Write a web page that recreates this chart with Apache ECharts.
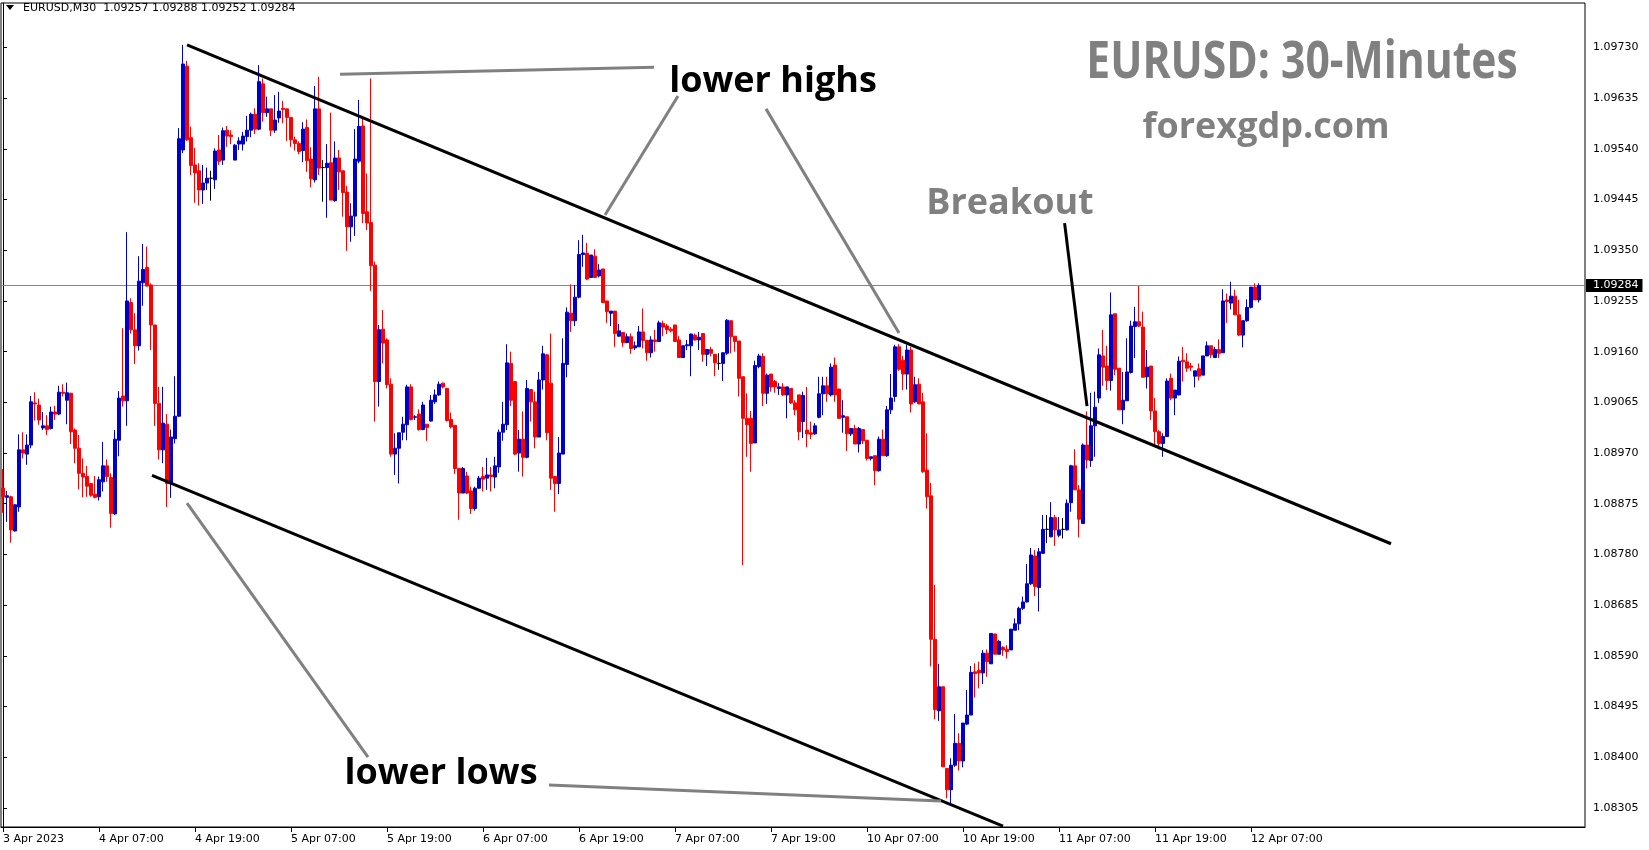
<!DOCTYPE html>
<html>
<head>
<meta charset="utf-8">
<script src="https://cdn.jsdelivr.net/npm/echarts@6/dist/echarts.min.js"></script>
<style>
html,body{margin:0;padding:0;background:#fff;}
#chart{width:1649px;height:850px;}
</style>
</head>
<body>
<div id="chart"></div>
<script>
// ---- Data (EURUSD M30, 3 Apr 19:00 .. 12 Apr 2023) ----
const openP = [
1.08904,1.08887,1.08888,1.08824,1.08869,1.08976,1.08968,1.08985,1.09064,1.09060,
1.09017,1.09021,1.09016,1.09047,1.09043,1.09084,1.09069,1.09082,1.09013,1.08979,
1.08932,1.08926,1.08913,1.08893,1.08888,1.08916,1.08946,1.08924,1.08856,1.08994,
1.09077,1.09068,1.09252,1.09201,1.09171,1.09289,1.09318,1.09285,1.09210,1.09063,
1.08976,1.09024,1.08914,1.08997,1.09039,1.09538,1.09695,1.09561,1.09510,1.09499,
1.09463,1.09476,1.09485,1.09482,1.09538,1.09519,1.09575,1.09566,1.09519,1.09549,
1.09549,1.09563,1.09575,1.09605,1.09577,1.09662,1.09608,1.09615,1.09575,1.09598,
1.09616,1.09615,1.09599,1.09557,1.09550,1.09537,1.09580,1.09521,1.09482,1.09615,
1.09505,1.09505,1.09514,1.09443,1.09523,1.09499,1.09459,1.09394,1.09414,1.09517,
1.09583,1.09422,1.09402,1.09322,1.09104,1.09202,1.09182,1.09099,1.08968,1.08979,
1.09009,1.09023,1.09094,1.09037,1.09043,1.09014,1.09024,1.09030,1.09066,1.09079,
1.09101,1.09091,1.09033,1.09022,1.08941,1.08895,1.08927,1.08899,1.08866,1.08904,
1.08926,1.08923,1.08929,1.08925,1.08944,1.09009,1.09023,1.09138,1.09104,1.08970,
1.08996,1.08962,1.09089,1.09066,1.09000,1.09107,1.09154,1.09101,1.08926,1.08913,
1.08968,1.09136,1.09232,1.09218,1.09262,1.09342,1.09344,1.09299,1.09339,1.09302,
1.09315,1.09255,1.09232,1.09236,1.09189,1.09196,1.09177,1.09188,1.09167,1.09169,
1.09197,1.09181,1.09158,1.09182,1.09179,1.09213,1.09208,1.09202,1.09210,1.09182,
1.09149,1.09171,1.09171,1.09191,1.09182,1.09194,1.09155,1.09164,1.09155,1.09138,
1.09138,1.09157,1.09218,1.09189,1.09180,1.09113,1.09035,1.09035,1.08989,1.09132,
1.09151,1.09082,1.09118,1.09104,1.09091,1.09094,1.09079,1.09091,1.09064,1.09079,
1.09029,1.09013,1.09008,1.09006,1.09037,1.09081,1.09096,1.09079,1.09135,1.09090,
1.09037,1.09038,1.09006,1.09016,1.08987,1.09014,1.08994,1.08960,1.08965,1.08937,
1.08996,1.08965,1.09051,1.09076,1.09169,1.09144,1.09118,1.09163,1.09066,1.09099,
1.09066,1.08938,1.08890,1.08621,1.08487,1.08532,1.08379,1.08339,1.08385,1.08426,
1.08393,1.08462,1.08479,1.08560,1.08563,1.08558,1.08595,1.08575,1.08631,1.08593,
1.08606,1.08602,1.08601,1.08638,1.08650,1.08679,1.08691,1.08725,1.08777,1.08718,
1.08782,1.08827,1.08813,1.08849,1.08816,1.08827,1.08826,1.08877,1.08946,1.08901,
1.08838,1.08985,1.08956,1.09021,1.09073,1.09152,1.09133,1.09106,1.09231,1.09129,
1.09051,1.09068,1.09121,1.09207,1.09216,1.09206,1.09113,1.09133,1.09049,1.09010,
1.08988,1.09001,1.09110,1.09073,1.09079,1.09144,1.09141,1.09133,1.09114,1.09128,
1.09116,1.09152,1.09171,1.09149,1.09164,1.09158,1.09257,1.09251,1.09264,1.09229,
1.09191,1.09218,1.09243,1.09281,1.09257];
const highP = [
1.08940,1.08899,1.08890,1.08874,1.09005,1.09009,1.09005,1.09077,1.09084,1.09072,
1.09047,1.09041,1.09057,1.09058,1.09096,1.09099,1.09102,1.09083,1.09016,1.09004,
1.08960,1.08946,1.08913,1.08927,1.08926,1.08991,1.08958,1.08932,1.09013,1.09086,
1.09204,1.09384,1.09260,1.09232,1.09339,1.09362,1.09357,1.09288,1.09210,1.09094,
1.09094,1.09043,1.09014,1.09114,1.09579,1.09735,1.09705,1.09582,1.09542,1.09513,
1.09510,1.09505,1.09499,1.09541,1.09566,1.09580,1.09583,1.09575,1.09549,1.09562,
1.09572,1.09602,1.09608,1.09616,1.09697,1.09672,1.09638,1.09615,1.09641,1.09647,
1.09630,1.09615,1.09599,1.09563,1.09554,1.09590,1.09595,1.09543,1.09658,1.09675,
1.09519,1.09549,1.09608,1.09554,1.09538,1.09499,1.09471,1.09438,1.09577,1.09632,
1.09602,1.09494,1.09672,1.09329,1.09210,1.09238,1.09185,1.09110,1.09007,1.09008,
1.09038,1.09098,1.09099,1.09041,1.09052,1.09066,1.09024,1.09079,1.09089,1.09104,
1.09102,1.09092,1.09046,1.09022,1.08941,1.08944,1.08935,1.08907,1.08907,1.08927,
1.08944,1.08961,1.08944,1.08963,1.09014,1.09066,1.09174,1.09160,1.09104,1.09013,
1.09048,1.09107,1.09089,1.09085,1.09122,1.09171,1.09156,1.09194,1.08926,1.09000,
1.09185,1.09243,1.09286,1.09285,1.09369,1.09379,1.09364,1.09341,1.09352,1.09324,
1.09315,1.09255,1.09236,1.09236,1.09212,1.09196,1.09194,1.09194,1.09179,1.09208,
1.09241,1.09181,1.09189,1.09201,1.09218,1.09218,1.09212,1.09206,1.09210,1.09189,
1.09171,1.09182,1.09194,1.09194,1.09197,1.09194,1.09164,1.09169,1.09155,1.09157,
1.09158,1.09221,1.09218,1.09189,1.09180,1.09113,1.09082,1.09049,1.09143,1.09156,
1.09157,1.09119,1.09118,1.09107,1.09101,1.09101,1.09094,1.09091,1.09069,1.09079,
1.09085,1.09094,1.09029,1.09026,1.09113,1.09113,1.09113,1.09138,1.09149,1.09090,
1.09069,1.09038,1.09016,1.09023,1.09019,1.09014,1.08994,1.08963,1.08965,1.09001,
1.09014,1.09058,1.09118,1.09173,1.09174,1.09152,1.09173,1.09169,1.09113,1.09110,
1.09083,1.09007,1.08914,1.08723,1.08575,1.08532,1.08379,1.08398,1.08481,1.08445,
1.08464,1.08526,1.08571,1.08576,1.08579,1.08601,1.08602,1.08632,1.08631,1.08620,
1.08608,1.08610,1.08640,1.08660,1.08682,1.08701,1.08762,1.08792,1.08788,1.08792,
1.08854,1.08854,1.08878,1.08854,1.08850,1.08848,1.08883,1.08948,1.08977,1.08910,
1.08988,1.09048,1.09083,1.09085,1.09166,1.09201,1.09171,1.09271,1.09231,1.09129,
1.09122,1.09185,1.09218,1.09244,1.09283,1.09235,1.09163,1.09133,1.09073,1.09013,
1.09007,1.09110,1.09119,1.09088,1.09151,1.09169,1.09157,1.09139,1.09124,1.09138,
1.09152,1.09179,1.09171,1.09169,1.09183,1.09277,1.09269,1.09291,1.09276,1.09257,
1.09218,1.09258,1.09281,1.09288,1.09288];
const lowP = [
1.08858,1.08841,1.08802,1.08823,1.08860,1.08960,1.08948,1.08979,1.09031,1.09023,
1.09013,1.09004,1.09014,1.09032,1.09041,1.09076,1.09024,1.08987,1.08951,1.08902,
1.08887,1.08888,1.08888,1.08885,1.08881,1.08898,1.08916,1.08830,1.08854,1.08964,
1.09057,1.09021,1.09194,1.09137,1.09162,1.09246,1.09282,1.09163,1.09021,1.08958,
1.08951,1.08869,1.08886,1.08988,1.09038,1.09532,1.09555,1.09491,1.09439,1.09434,
1.09437,1.09463,1.09443,1.09465,1.09510,1.09510,1.09544,1.09549,1.09519,1.09538,
1.09537,1.09554,1.09562,1.09568,1.09575,1.09591,1.09600,1.09564,1.09570,1.09589,
1.09588,1.09555,1.09544,1.09537,1.09530,1.09515,1.09497,1.09468,1.09477,1.09491,
1.09441,1.09411,1.09444,1.09441,1.09463,1.09413,1.09349,1.09366,1.09377,1.09513,
1.09401,1.09388,1.09274,1.09029,1.09057,1.09138,1.09091,1.08963,1.08929,1.08913,
1.08994,1.08994,1.09031,1.09032,1.09012,1.09013,1.08993,1.09029,1.09062,1.09077,
1.09091,1.09029,1.09016,1.08931,1.08845,1.08895,1.08893,1.08856,1.08862,1.08904,
1.08898,1.08901,1.08898,1.08904,1.08933,1.08993,1.09013,1.09058,1.08966,1.08935,
1.08926,1.08960,1.09029,1.08979,1.09000,1.09089,1.08994,1.08901,1.08860,1.08893,
1.08968,1.09112,1.09197,1.09208,1.09260,1.09319,1.09294,1.09298,1.09298,1.09299,
1.09251,1.09214,1.09208,1.09169,1.09188,1.09169,1.09176,1.09156,1.09163,1.09169,
1.09166,1.09143,1.09149,1.09160,1.09179,1.09189,1.09193,1.09196,1.09179,1.09149,
1.09148,1.09163,1.09114,1.09181,1.09163,1.09141,1.09133,1.09151,1.09114,1.09126,
1.09105,1.09154,1.09157,1.09160,1.09076,1.08760,1.08963,1.08935,1.08989,1.09129,
1.09058,1.09062,1.09085,1.09083,1.09079,1.09077,1.09035,1.09062,1.09041,1.08994,
1.08998,1.08981,1.08996,1.09004,1.09035,1.09041,1.09066,1.09076,1.09066,1.09035,
1.09008,1.08974,1.09002,1.08987,1.08971,1.08987,1.08956,1.08956,1.08910,1.08935,
1.08965,1.08963,1.09043,1.09066,1.09124,1.09088,1.09089,1.09046,1.09064,1.09062,
1.08933,1.08866,1.08570,1.08471,1.08468,1.08382,1.08323,1.08314,1.08382,1.08375,
1.08381,1.08460,1.08479,1.08512,1.08529,1.08537,1.08551,1.08575,1.08593,1.08592,
1.08590,1.08585,1.08601,1.08638,1.08638,1.08676,1.08690,1.08723,1.08702,1.08673,
1.08781,1.08801,1.08812,1.08796,1.08812,1.08810,1.08825,1.08860,1.08901,1.08812,
1.08837,1.08941,1.08944,1.08963,1.09064,1.09096,1.09088,1.09087,1.09116,1.09051,
1.09024,1.09068,1.09119,1.09148,1.09206,1.09112,1.09091,1.09032,1.08985,1.08977,
1.08963,1.09001,1.09069,1.09041,1.09078,1.09104,1.09122,1.09124,1.09093,1.09106,
1.09116,1.09152,1.09148,1.09148,1.09148,1.09158,1.09214,1.09239,1.09229,1.09189,
1.09168,1.09216,1.09241,1.09257,1.09252];
const closeP = [
1.08888,1.08890,1.08826,1.08873,1.08976,1.08970,1.08985,1.09066,1.09062,1.09032,
1.09021,1.09014,1.09047,1.09043,1.09084,1.09082,1.09083,1.09010,1.08979,1.08932,
1.08925,1.08908,1.08891,1.08887,1.08920,1.08946,1.08926,1.08857,1.08996,1.09073,
1.09068,1.09255,1.09201,1.09171,1.09292,1.09314,1.09283,1.09210,1.09063,1.08976,
1.09026,1.08913,1.09000,1.09039,1.09559,1.09699,1.09557,1.09509,1.09495,1.09463,
1.09476,1.09485,1.09485,1.09536,1.09517,1.09574,1.09564,1.09563,1.09547,1.09555,
1.09564,1.09575,1.09605,1.09577,1.09666,1.09608,1.09615,1.09575,1.09594,1.09611,
1.09614,1.09599,1.09557,1.09550,1.09535,1.09577,1.09518,1.09484,1.09615,1.09504,
1.09505,1.09513,1.09444,1.09523,1.09497,1.09458,1.09394,1.09414,1.09521,1.09582,
1.09419,1.09401,1.09321,1.09104,1.09201,1.09176,1.09098,1.08968,1.08979,1.09008,
1.09024,1.09094,1.09033,1.09038,1.09014,1.09060,1.09018,1.09069,1.09079,1.09099,
1.09094,1.09031,1.09019,1.08941,1.08895,1.08941,1.08895,1.08866,1.08904,1.08923,
1.08921,1.08929,1.08926,1.08946,1.09009,1.09024,1.09139,1.09069,1.08968,1.08996,
1.08962,1.09091,1.09066,1.09000,1.09107,1.09156,1.09008,1.08923,1.08913,1.08970,
1.09138,1.09234,1.09218,1.09262,1.09342,1.09345,1.09296,1.09341,1.09299,1.09313,
1.09252,1.09235,1.09236,1.09194,1.09199,1.09177,1.09188,1.09166,1.09171,1.09197,
1.09181,1.09158,1.09182,1.09179,1.09214,1.09206,1.09201,1.09199,1.09179,1.09149,
1.09171,1.09173,1.09193,1.09182,1.09187,1.09155,1.09164,1.09157,1.09139,1.09138,
1.09158,1.09219,1.09188,1.09179,1.09110,1.09035,1.09023,1.08988,1.09134,1.09152,
1.09082,1.09116,1.09094,1.09094,1.09094,1.09079,1.09094,1.09064,1.09051,1.09010,
1.09078,1.09006,1.09005,1.09021,1.09081,1.09096,1.09081,1.09131,1.09079,1.09035,
1.09040,1.09006,1.09016,1.08987,1.09016,1.08993,1.08960,1.08963,1.08937,1.08996,
1.08965,1.09051,1.09073,1.09169,1.09127,1.09118,1.09163,1.09062,1.09098,1.09062,
1.08935,1.08888,1.08621,1.08489,1.08532,1.08382,1.08339,1.08385,1.08426,1.08393,
1.08464,1.08479,1.08559,1.08557,1.08558,1.08595,1.08579,1.08632,1.08593,1.08617,
1.08601,1.08598,1.08640,1.08650,1.08679,1.08691,1.08725,1.08779,1.08720,1.08785,
1.08827,1.08827,1.08849,1.08826,1.08826,1.08827,1.08876,1.08946,1.08901,1.08846,
1.08985,1.08957,1.09021,1.09056,1.09154,1.09131,1.09106,1.09229,1.09127,1.09051,
1.09069,1.09122,1.09208,1.09216,1.09208,1.09112,1.09131,1.09049,1.09010,1.08988,
1.09001,1.09105,1.09073,1.09088,1.09142,1.09141,1.09129,1.09131,1.09124,1.09114,
1.09152,1.09171,1.09154,1.09164,1.09157,1.09255,1.09254,1.09264,1.09229,1.09191,
1.09218,1.09243,1.09281,1.09257,1.09284];

// time-axis tick labels (bar index -> label)
const timeTickBars   = [0, 24, 48, 72, 96, 120, 144, 168, 192, 216, 240, 264, 288, 312];
const timeTickLabels = ['3 Apr 2023','4 Apr 07:00','4 Apr 19:00','5 Apr 07:00','5 Apr 19:00',
  '6 Apr 07:00','6 Apr 19:00','7 Apr 07:00','7 Apr 19:00','10 Apr 07:00','10 Apr 19:00',
  '11 Apr 07:00','11 Apr 19:00','12 Apr 07:00'];
// price-axis tick labels
const priceTicks = [1.08305,1.08400,1.08495,1.08590,1.08685,1.08780,1.08875,1.08970,
  1.09065,1.09160,1.09255,1.09350,1.09445,1.09540,1.09635,1.09730];
const priceMin = 1.082692, priceMax = 1.098134;
const slotCount = 396;   // visible bar slots incl. empty right margin

// hand-drawn analysis lines: [barIndex, price] endpoints
const upperChannel = [[46, 1.09735], [347, 1.08800]];
const lowerChannel = [[37.25, 1.08928], [250, 1.08271]];
const breakoutLine = [[265.4, 1.09401], [271, 1.09058]];
const greyPointers = [
  [[84.25, 1.09680], [162.75, 1.09693]],
  [[168.75, 1.09639], [150.5, 1.09416]],
  [[190.75, 1.09615], [224, 1.09195]],
  [[46, 1.08876], [91.25, 1.08400]],
  [[136.5, 1.08348], [234.5, 1.08318]]
];

// ---- build ----
const slots = [];
for (let i = 0; i < slotCount; i++) slots.push(String(i));
const candles = openP.map((o, i) => [o, closeP[i], lowP[i], highP[i]]);
const last = openP.length - 1;
const lastClose = closeP[last];
const tickSet = new Set(timeTickBars);
const tickFn = (idx) => tickSet.has(idx);

function lineSeries(pts, color) {
  return {
    type: 'line', xAxisIndex: 1, yAxisIndex: 0, data: pts, symbol: 'none',
    silent: true, animation: false, clip: true, z: 5,
    lineStyle: { color: color, width: 3, cap: 'butt' }
  };
}

const series = [{
  // current bid line across the whole chart, with its price box on the axis
  type: 'line', xAxisIndex: 1, yAxisIndex: 0, z: 1, silent: true, animation: false,
  symbol: 'none', clip: false,
  data: [[-0.5, lastClose], [slotCount - 0.5, lastClose]],
  lineStyle: { color: '#778899', width: 1 },
  endLabel: {
    show: true, distance: 1,
    formatter: () => lastClose.toFixed(5),
    backgroundColor: '#000', color: '#fff',
    fontFamily: 'DejaVu Sans', fontSize: 11, lineHeight: 12,
    padding: [1, 4, 0, 7]
  }
}, {
  type: 'candlestick', xAxisIndex: 0, yAxisIndex: 0, data: candles,
  barWidth: 3, z: 3,
  itemStyle: {
    color: '#0000cd', color0: '#ff0000',
    borderColor: '#0000cd', borderColor0: '#ff0000',
    borderColorDoji: '#000000', borderWidth: 1
  }
}];
series.push(lineSeries(upperChannel, '#000000'));
series.push(lineSeries(lowerChannel, '#000000'));
series.push(lineSeries(breakoutLine, '#000000'));
greyPointers.forEach(p => series.push(lineSeries(p, '#808080')));

const headerText = 'EURUSD,M30  ' + [openP[last], highP[last], lowP[last], closeP[last]].map(v => v.toFixed(5)).join(' ');

const chart = echarts.init(document.getElementById('chart'), null, { renderer: 'canvas' });
chart.setOption({
  animation: false,
  backgroundColor: '#ffffff',
  textStyle: { fontFamily: 'DejaVu Sans' },
  grid: { left: 1, right: 64, top: 3, bottom: 23, show: true, borderColor: '#000', borderWidth: 1, backgroundColor: '#fff' },
  xAxis: [{
    type: 'category', data: slots, boundaryGap: true,
    axisLine: { show: true, lineStyle: { color: '#000', width: 1 } },
    axisTick: { show: true, interval: tickFn, alignWithLabel: true, length: 5, lineStyle: { color: '#000' } },
    axisLabel: {
      interval: tickFn, align: 'left', margin: 7, color: '#000',
      fontFamily: 'DejaVu Sans', fontSize: 11,
      formatter: (v, idx) => { const k = timeTickBars.indexOf(Number(v)); return k >= 0 ? timeTickLabels[k] : ''; }
    },
    splitLine: { show: false }
  }, {
    type: 'value', min: -0.5, max: slotCount - 0.5, show: false
  }],
  yAxis: [{
    type: 'value', position: 'right', min: priceMin, max: priceMax,
    axisLine: { show: true, lineStyle: { color: '#000', width: 1 } },
    axisTick: { show: true, customValues: priceTicks, length: 4, inside: false, lineStyle: { color: '#000' } },
    axisLabel: { customValues: priceTicks, formatter: v => Number(v).toFixed(5), margin: 8, color: '#000', fontFamily: 'DejaVu Sans', fontSize: 11 },
    splitLine: { show: false }
  }],
  graphic: [
    { type: 'polygon', z: 100, shape: { points: [[6, 5], [14, 5], [10, 10]] }, style: { fill: '#000' } },
    { type: 'text', z: 100, x: 23, y: 8, style: { text: headerText, fill: '#000', font: '11px "DejaVu Sans"', align: 'left', verticalAlign: 'middle' } },
    { type: 'text', z: 100, x: 1302, y: 63, scaleX: 0.82, style: { text: 'EURUSD: 30-Minutes', fill: '#808080', font: 'bold 52px "Open Sans"', align: 'center', verticalAlign: 'middle' } },
    { type: 'text', z: 100, x: 1266, y: 128, style: { text: 'forexgdp.com', fill: '#808080', font: 'bold 36px "Open Sans"', align: 'center', verticalAlign: 'middle' } },
    { type: 'text', z: 100, x: 1010, y: 204, style: { text: 'Breakout', fill: '#808080', font: 'bold 36px "Open Sans"', align: 'center', verticalAlign: 'middle' } },
    { type: 'text', z: 100, x: 773, y: 82, style: { text: 'lower highs', fill: '#000', font: 'bold 36px "Open Sans"', align: 'center', verticalAlign: 'middle' } },
    { type: 'text', z: 100, x: 441, y: 774, style: { text: 'lower lows', fill: '#000', font: 'bold 36px "Open Sans"', align: 'center', verticalAlign: 'middle' } }
  ],
  series: series
});
</script>
</body>
</html>
